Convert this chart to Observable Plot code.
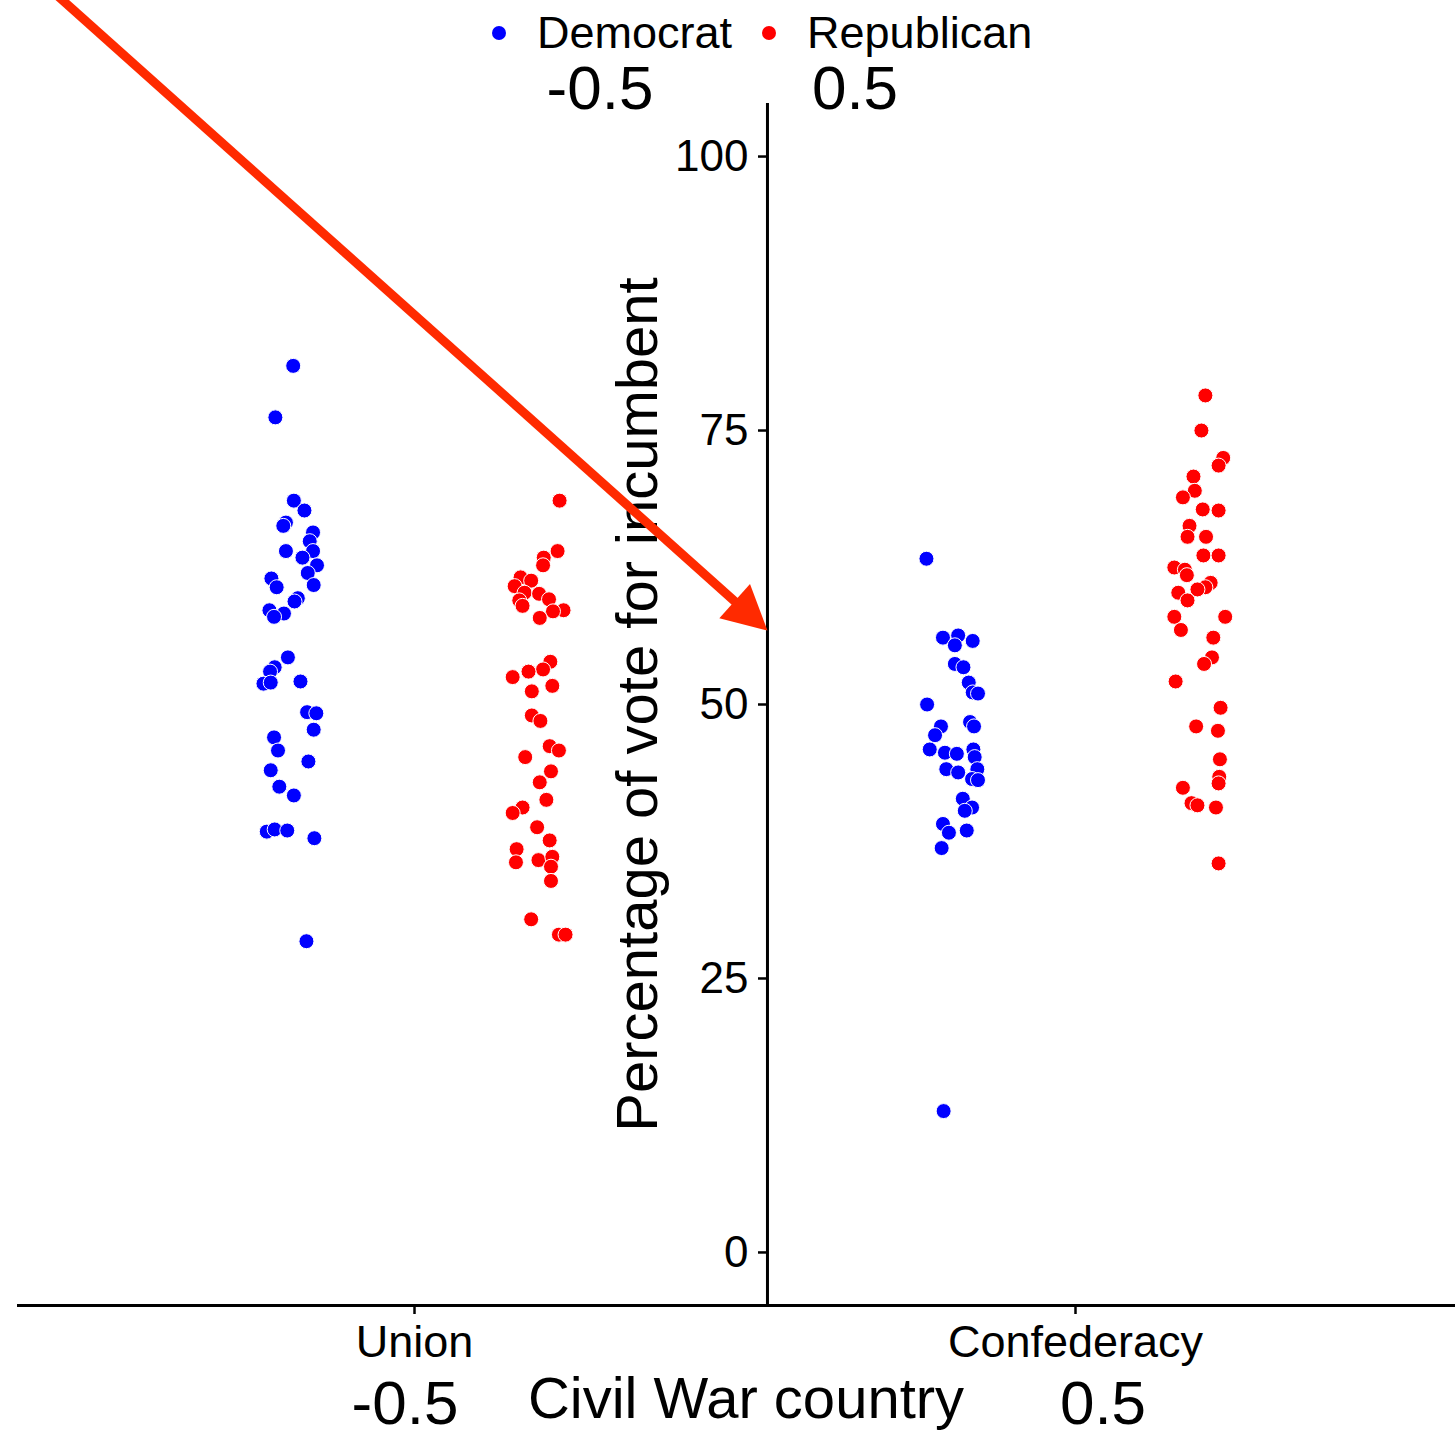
<!DOCTYPE html>
<html>
<head>
<meta charset="utf-8">
<script src="https://cdn.jsdelivr.net/npm/d3@7"></script>
<script src="https://cdn.jsdelivr.net/npm/@observablehq/plot@0.6"></script>
<style>
  html, body { margin: 0; padding: 0; background: #fff; }
  body { font-family: "Liberation Sans", Arial, Helvetica, sans-serif; color: #000; }
  #wrap { position: relative; width: 1455px; height: 1436px; overflow: hidden; }
  #wrap svg { position: absolute; left: 0; top: 0; overflow: hidden; }
  #legend { position: absolute; top: 10px; left: 492px; display: flex; align-items: center;
            font-size: 45px; line-height: 45px; white-space: nowrap; }
  #legend .swatch { display: inline-block; width: 14px; height: 14px; border-radius: 50%; }
  #legend .name { margin-left: 31px; margin-right: 30px; }
  .code { position: absolute; font-size: 62px; line-height: 62px; transform: translateX(-50%); white-space: nowrap; }
</style>
</head>
<body>
<div id="wrap"></div>
<script>
// Categories and codings
const countries = ["Union", "Confederacy"];
const countryCodes = [-0.5, 0.5];
const parties = ["Democrat", "Republican"];
const partyCodes = [-0.5, 0.5];
const partyColors = ["#0000ff", "#ff0000"];
const yTicks = [0, 25, 50, 75, 100];

// Incumbent vote share (%) per election, with its horizontal jitter (in country units)
const unionDemocrat = [
  [80.9, 0.004], [76.2, -0.023], [68.6, 0.005], [67.7, 0.021], [66.6, -0.007], [66.3, -0.011],
  [65.7, 0.034], [64.9, 0.029], [64.0, 0.034], [64.0, -0.007], [63.4, 0.018], [62.7, 0.040],
  [62.0, 0.026], [60.9, 0.035], [61.5, -0.029], [60.7, -0.021], [59.7, 0.011], [59.4, 0.006],
  [58.6, -0.032], [58.3, -0.010], [58.0, -0.025], [54.3, -0.004], [53.4, -0.024], [53.0, -0.031],
  [51.9, -0.041], [52.0, -0.030], [52.1, 0.015], [49.3, 0.025], [49.2, 0.039], [47.7, 0.035],
  [47.0, -0.025], [45.8, -0.019], [44.8, 0.027], [44.0, -0.030], [42.5, -0.017], [41.7, 0.005],
  [38.4, -0.036], [38.6, -0.024], [38.5, -0.005], [37.8, 0.036], [28.4, 0.024]
];
const unionRepublican = [
  [68.6, 0.032], [64.0, 0.029], [63.4, 0.008], [62.7, 0.007], [61.6, -0.027], [61.3, -0.011],
  [60.8, -0.036], [60.2, -0.021], [60.1, 0.001], [59.6, 0.016], [59.5, -0.029], [59.0, -0.024],
  [58.6, 0.038], [58.5, 0.022], [57.9, 0.002], [53.9, 0.018], [53.2, 0.007], [53.0, -0.015],
  [52.5, -0.039], [51.7, 0.021], [51.2, -0.010], [49.0, -0.010], [48.5, 0.003], [46.2, 0.017],
  [45.8, 0.031], [45.2, -0.020], [43.9, 0.019], [42.9, 0.002], [41.3, 0.012], [40.6, -0.024],
  [40.1, -0.039], [38.8, -0.002], [37.6, 0.017], [36.8, -0.033], [35.6, -0.034], [35.8, 0.000],
  [36.1, 0.021], [35.2, 0.019], [33.9, 0.019], [30.4, -0.011], [29.0, 0.031], [29.0, 0.041]
];
const confederacyDemocrat = [
  [63.3, -0.038], [56.1, -0.013], [56.3, 0.010], [55.4, 0.005], [55.8, 0.032], [53.7, 0.005],
  [53.4, 0.018], [52.0, 0.026], [51.1, 0.032], [51.0, 0.040], [50.0, -0.037], [48.4, 0.028],
  [48.0, 0.034], [48.0, -0.016], [47.2, -0.025], [45.9, -0.033], [45.6, -0.010], [45.5, 0.008],
  [45.9, 0.033], [45.2, 0.035], [44.1, -0.008], [43.8, 0.010], [44.1, 0.039], [43.2, 0.031],
  [43.1, 0.040], [41.4, 0.017], [40.6, 0.031], [40.3, 0.020], [39.1, -0.013], [38.3, -0.004],
  [38.5, 0.023], [36.9, -0.015], [12.9, -0.012]
];
const confederacyRepublican = [
  [78.2, 0.009], [75.0, 0.003], [72.5, 0.036], [71.8, 0.029], [70.8, -0.009], [69.5, -0.007],
  [68.9, -0.025], [67.8, 0.005], [67.7, 0.029], [66.3, -0.015], [65.3, -0.018], [65.3, 0.010],
  [63.6, 0.006], [63.6, 0.029], [62.5, -0.038], [62.3, -0.022], [61.8, -0.019], [61.1, 0.017],
  [60.7, 0.009], [60.5, -0.003], [60.2, -0.032], [59.5, -0.018], [58.0, -0.038], [58.0, 0.039],
  [56.8, -0.028], [56.1, 0.021], [54.3, 0.019], [53.7, 0.007], [52.1, -0.036], [49.7, 0.032],
  [48.0, -0.005], [47.6, 0.028], [45.0, 0.031], [43.4, 0.030], [42.8, 0.029], [42.4, -0.025],
  [41.0, -0.012], [40.8, -0.003], [40.6, 0.025], [35.5, 0.029]
];

// Annotation arrow pointing at the intercept on the vertical axis (data units)
const arrowStart = {x: -1.0658, y: 116.06};
const arrowTip = {x: 0.034, y: 56.75};
const yAxisAt = 0.034;

// Layout
const W = 1455, H = 1436;
const margin = {top: 103, right: 0, bottom: 131, left: 18};
const xDomain = [-1.0991, 1.0749];
const yDomain = [-4.84, 104.84];
const dodge = 0.375;
const font = "'Liberation Sans', Arial, Helvetica, sans-serif";
const arrowColor = "#ff2a00";

const rows = [];
[
  [0, 0, unionDemocrat], [0, 1, unionRepublican],
  [1, 0, confederacyDemocrat], [1, 1, confederacyRepublican]
].forEach(([ci, pi, pts]) => {
  for (const [vote, jitter] of pts) {
    rows.push({
      country: countries[ci],
      party: parties[pi],
      vote,
      x: countryCodes[ci] + dodge * partyCodes[pi] + jitter
    });
  }
});

const xPx = v => margin.left + (v - xDomain[0]) / (xDomain[1] - xDomain[0]) * (W - margin.left - margin.right);
const yPx = v => (H - margin.bottom) - (v - yDomain[0]) / (yDomain[1] - yDomain[0]) * (H - margin.top - margin.bottom);

const angle = Math.atan2(yPx(arrowTip.y) - yPx(arrowStart.y), xPx(arrowTip.x) - xPx(arrowStart.x)) * 180 / Math.PI;
const arrowLenPx = Math.hypot(yPx(arrowTip.y) - yPx(arrowStart.y), xPx(arrowTip.x) - xPx(arrowStart.x));
const neckT = 1 - 30 / arrowLenPx;
const arrowNeck = {x: arrowStart.x + (arrowTip.x - arrowStart.x) * neckT, y: arrowStart.y + (arrowTip.y - arrowStart.y) * neckT};

// Filled triangular head, tip at the origin pointing along +x
const arrowHead = {
  draw(ctx) {
    ctx.moveTo(0, 0);
    ctx.lineTo(-44, -23);
    ctx.lineTo(-44, 23);
    ctx.closePath();
  }
};

const chart = Plot.plot({
  width: W,
  height: H,
  marginTop: margin.top,
  marginRight: margin.right,
  marginBottom: margin.bottom,
  marginLeft: margin.left,
  style: {fontFamily: font, background: "#fff", color: "#000"},
  x: {type: "linear", domain: xDomain, axis: null},
  y: {domain: yDomain, axis: null},
  color: {domain: parties, range: partyColors},
  marks: [
    Plot.frame({anchor: "bottom", strokeWidth: 3}),
    Plot.ruleX([yAxisAt], {strokeWidth: 3}),
    Plot.axisY({
      ticks: yTicks, anchor: "left", dx: xPx(yAxisAt) - margin.left,
      tickSize: 9, tickPadding: 10, fontSize: 44, strokeWidth: 2.5, label: null
    }),
    Plot.axisX({
      ticks: countryCodes, tickFormat: d => countries[countryCodes.indexOf(d)],
      tickSize: 9, tickPadding: 11, fontSize: 45, strokeWidth: 2.5, label: null
    }),
    Plot.text(["Civil War country"], {
      frameAnchor: "bottom", dx: 9, dy: 112, lineAnchor: "bottom", fontSize: 58
    }),
    Plot.text(["Percentage of vote for incumbent"], {
      frameAnchor: "left", dx: 638, rotate: -90, lineAnchor: "bottom", textAnchor: "middle", fontSize: 58
    }),
    Plot.dot(rows, {x: "x", y: "vote", fill: "party", r: 7.5, stroke: "#fff", strokeWidth: 1}),
    Plot.line([arrowStart, arrowNeck], {x: "x", y: "y", stroke: arrowColor, strokeWidth: 9, strokeLinecap: "butt"}),
    Plot.dot([arrowTip], {x: "x", y: "y", symbol: arrowHead, rotate: angle, fill: arrowColor})
  ]
});

const wrap = document.getElementById("wrap");
wrap.appendChild(chart);

// Legend
const legend = document.createElement("div");
legend.id = "legend";
parties.forEach((p, i) => {
  const sw = document.createElement("span");
  sw.className = "swatch";
  sw.style.background = partyColors[i];
  const name = document.createElement("span");
  name.className = "name";
  name.textContent = p;
  legend.appendChild(sw);
  legend.appendChild(name);
});
wrap.appendChild(legend);

// Coding labels: party codes under the legend, country codes under the axis
function codeLabel(text, left, top) {
  const el = document.createElement("div");
  el.className = "code";
  el.textContent = text;
  el.style.left = left + "px";
  el.style.top = top + "px";
  wrap.appendChild(el);
}
codeLabel(String(partyCodes[0]), 600, 57);
codeLabel(String(partyCodes[1]), 855, 57);
codeLabel(String(countryCodes[0]), 405, 1372);
codeLabel(String(countryCodes[1]), 1103, 1372);
</script>
</body>
</html>
